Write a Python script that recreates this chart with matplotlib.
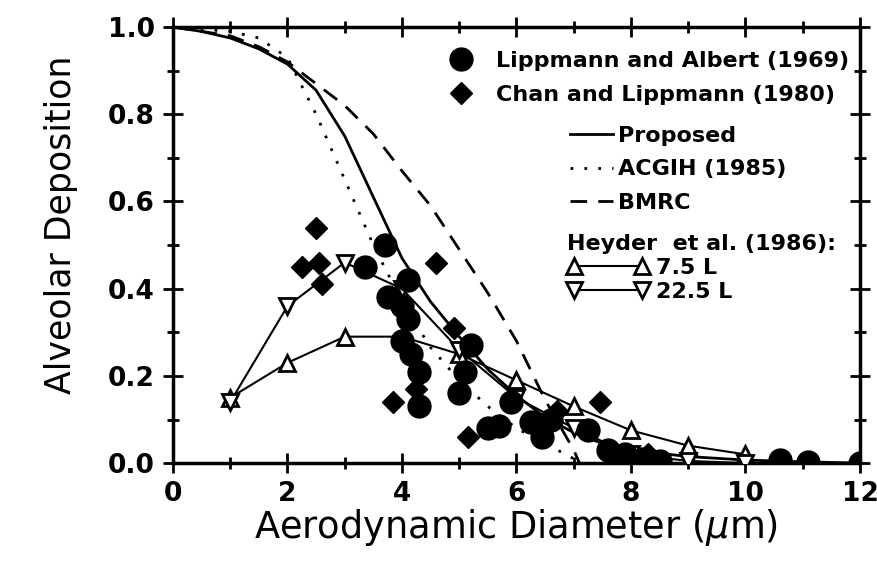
import matplotlib
matplotlib.use("Agg")
import matplotlib.pyplot as plt
from matplotlib.lines import Line2D
from matplotlib.ticker import MultipleLocator

plt.rcParams['font.family'] = ['DejaVu Sans']

# Lippmann and Albert (1969): measured alveolar deposition
lip_x = [3.35, 3.7, 3.75, 4.0, 4.1, 4.1, 4.0, 4.15, 4.3, 4.3, 5.0, 5.1, 5.2,
         5.5, 5.7, 5.9, 6.25, 6.45, 6.6, 7.25, 7.6, 7.9, 8.2, 8.5, 10.6, 11.1, 12.0]
lip_y = [0.45, 0.50, 0.38, 0.36, 0.33, 0.42, 0.28, 0.25, 0.21, 0.13, 0.16, 0.21, 0.27,
         0.08, 0.085, 0.14, 0.095, 0.06, 0.10, 0.075, 0.03, 0.02, 0.01, 0.005, 0.007, 0.003, 0.0]

# Chan and Lippmann (1980)
chan_x = [2.25, 2.5, 2.55, 2.6, 3.85, 4.25, 4.6, 4.9, 5.15, 6.7, 7.45, 7.7, 8.0, 8.3]
chan_y = [0.45, 0.54, 0.46, 0.41, 0.14, 0.17, 0.46, 0.31, 0.06, 0.12, 0.14, 0.01, 0.005, 0.02]

# Deposition criteria curves
prop_x = [0, 0.5, 1, 1.5, 2, 2.5, 3, 3.5, 4, 4.5, 5, 5.5, 6, 6.5, 7, 7.5, 8, 9, 10, 11, 12]
prop_y = [1.0, 0.99, 0.975, 0.95, 0.915, 0.855, 0.75, 0.61, 0.47, 0.37, 0.29, 0.215,
          0.155, 0.105, 0.07, 0.045, 0.03, 0.015, 0.007, 0.003, 0.0]

acgih_x = [0, 0.5, 1, 1.5, 2, 2.5, 3, 3.5, 4, 4.5, 5, 5.5, 6, 6.5, 7, 7.1]
acgih_y = [1.0, 0.995, 0.99, 0.975, 0.93, 0.80, 0.65, 0.50, 0.37, 0.265, 0.19, 0.13,
           0.08, 0.045, 0.01, 0.0]

bmrc_x = [0, 0.5, 1, 1.5, 2, 2.5, 3, 3.5, 4, 4.5, 5, 5.5, 6, 6.5, 7, 7.1]
bmrc_y = [1.0, 0.99, 0.98, 0.955, 0.92, 0.87, 0.82, 0.755, 0.67, 0.59, 0.49, 0.39,
          0.28, 0.145, 0.03, 0.0]

# Heyder et al. (1986)
hey_x = [1, 2, 3, 4, 5, 6, 7, 8, 9, 10]
hey_75 = [0.15, 0.23, 0.29, 0.29, 0.25, 0.19, 0.13, 0.075, 0.04, 0.02]
hey_225 = [0.14, 0.36, 0.46, 0.40, 0.26, 0.15, 0.08, 0.02, 0.005, 0.0]

x_ticks = [0, 2, 4, 6, 8, 10, 12]
y_ticks = [0.0, 0.2, 0.4, 0.6, 0.8, 1.0]

fig = plt.figure(figsize=(8.78, 5.76), dpi=100)
ax = fig.add_axes([0.197, 0.196, 0.7825, 0.757])

lw_curve = 2.0
ax.plot(prop_x, prop_y, color='k', lw=lw_curve, ls='-', zorder=2)
ax.plot(acgih_x, acgih_y, color='k', lw=2.0, ls=(0, (1, 4)), zorder=2)
ax.plot(bmrc_x, bmrc_y, color='k', lw=lw_curve, ls=(0, (6, 4)), zorder=2)

tri_kw = dict(color='k', lw=1.5, ms=11, mfc='white', mec='k', mew=2)
ax.plot(hey_x, hey_75, marker='^', zorder=3, **tri_kw)
ax.plot(hey_x, hey_225, marker='v', zorder=3, **tri_kw)

ax.plot(lip_x, lip_y, ls='none', marker='o', ms=16.5, color='k', zorder=4)
ax.plot(chan_x, chan_y, ls='none', marker='D', ms=11, color='k', zorder=4)

ax.set_xlim(0, 12)
ax.set_ylim(0, 1.0)
ax.set_xticks(x_ticks)
ax.set_yticks(y_ticks)
ax.set_xticklabels([str(v) for v in x_ticks])
ax.set_yticklabels([f"{v:.1f}" for v in y_ticks])
ax.xaxis.set_minor_locator(MultipleLocator(1))
ax.yaxis.set_minor_locator(MultipleLocator(0.1))
ax.tick_params(which='both', direction='inout', top=True, right=True, width=2)
ax.tick_params(which='major', length=14, labelsize=19, pad=6)
ax.tick_params(which='minor', length=8)
for lab in ax.get_xticklabels() + ax.get_yticklabels():
    lab.set_fontweight('bold')
for sp in ax.spines.values():
    sp.set_linewidth(2.5)

ax.set_xlabel(r"Aerodynamic Diameter ($\mu$m)", fontsize=26.5, labelpad=0)
ax.set_ylabel("Alveolar Deposition", fontsize=25)
ax.yaxis.set_label_coords(-0.138, 0.546)

leg_font = {'size': 16, 'weight': 'bold'}

h1 = [Line2D([], [], ls='none', marker='o', ms=16.5, color='k'),
      Line2D([], [], ls='none', marker='D', ms=11, color='k')]
leg1 = ax.legend(h1, ["Lippmann and Albert (1969)", "Chan and Lippmann (1980)"],
                 loc='upper left', bbox_to_anchor=(0.397, 0.945), frameon=False,
                 prop=leg_font, borderpad=0, borderaxespad=0, handlelength=1.4,
                 handletextpad=0.85, labelspacing=0.63)
ax.add_artist(leg1)

h2 = [Line2D([], [], color='k', lw=lw_curve, ls='-'),
      Line2D([], [], color='k', lw=2.0, ls=(0, (1, 4))),
      Line2D([], [], color='k', lw=lw_curve, ls=(0, (6, 4)))]
leg2 = ax.legend(h2, ["Proposed", "ACGIH (1985)", "BMRC"],
                 loc='upper left', bbox_to_anchor=(0.578, 0.773), frameon=False,
                 prop=leg_font, borderpad=0, borderaxespad=0, handlelength=1.95,
                 handletextpad=0.2, labelspacing=0.6)
ax.add_artist(leg2)

h3 = [Line2D([], [], marker='^', **tri_kw),
      Line2D([], [], marker='v', **tri_kw)]
leg3 = ax.legend(h3, ["7.5 L", "22.5 L"], title="Heyder  et al. (1986):",
                 title_fontproperties=leg_font, alignment='left',
                 loc='upper left', bbox_to_anchor=(0.574, 0.526), frameon=False,
                 prop=leg_font, borderpad=0, borderaxespad=0, handlelength=3.67,
                 handletextpad=0.3, labelspacing=0.18, numpoints=2)

fig.savefig("out.png", dpi=100)
